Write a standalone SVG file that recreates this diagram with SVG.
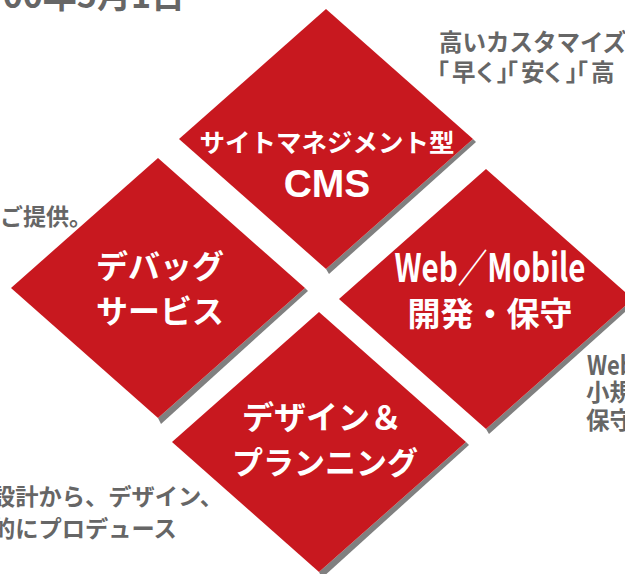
<svg xmlns="http://www.w3.org/2000/svg" width="625" height="574" viewBox="0 0 625 574">
<style>
.d{fill:#C8181F}
.s{fill:#808080}
.t{fill:#fff;font-family:"Noto Sans CJK JP","Noto Sans",sans-serif;font-weight:700;text-anchor:middle}
.g{fill:#666;font-family:"Noto Sans CJK JP","Noto Sans",sans-serif;font-weight:700}
</style>
<rect width="625" height="574" fill="#fff"/>
<g id="texts">
<text class="g" x="185" y="8" font-size="34" text-anchor="end">00年5月1日</text>
<text class="g" x="439" y="51" font-size="23.5">高いカスタマイズ</text>
<text class="g" x="437 452 476 497 506 521 544 566 576 591" y="81" font-size="23.5" style="font-feature-settings:'palt'">「早く」「安く」「高</text>
<text class="g" x="0" y="225" font-size="23">ご提供。</text>
<text class="g" x="587" y="375" font-size="27" textLength="47" lengthAdjust="spacingAndGlyphs">Web</text>
<text class="g" x="586" y="401" font-size="23.5">小規</text>
<text class="g" x="586" y="429" font-size="23.5">保守</text>
<text class="g" x="-8" y="505" font-size="23.25">設計から、デザイン、</text>
<text class="g" x="-8" y="537" font-size="23.25">的にプロデュース</text>
</g>
<g id="connectors"></g>
<g id="node-cms">
<polygon class="s" points="473,139 476,142 329,274 326,269"/>
<polygon class="d" points="326,9 473,139 326,269 179,139"/>
<text class="t" x="327" y="152" font-size="25.5">サイトマネジメント型</text>
<text class="t" x="327" y="197" font-size="39" style="font-family:'Liberation Sans',Arial,sans-serif">CMS</text>
</g>
<g id="node-debug">
<polygon class="s" points="305,288 308,291 161,424 158,418"/>
<polygon class="d" points="158,158 305,288 158,418 11,288"/>
<text class="t" x="160" y="278" font-size="32">デバッグ</text>
<text class="t" x="160" y="323" font-size="32">サービス</text>
</g>
<g id="node-web">
<polygon class="s" points="633,299 636,302 489,434 486,429"/>
<polygon class="d" points="486,169 633,299 486,429 339,299"/>
<text class="t" x="490" y="282" font-size="39" textLength="191" lengthAdjust="spacingAndGlyphs">Web／Mobile</text>
<text class="t" x="490" y="326" font-size="33">開発・保守</text>
</g>
<g id="node-design">
<polygon class="s" points="466,442 469,445 322,578 319,572"/>
<polygon class="d" points="319,312 466,442 319,572 172,442"/>
<text class="t" x="322" y="429" font-size="32">デザイン＆</text>
<text class="t" x="325" y="474" font-size="31">プランニング</text>
</g>
</svg>
